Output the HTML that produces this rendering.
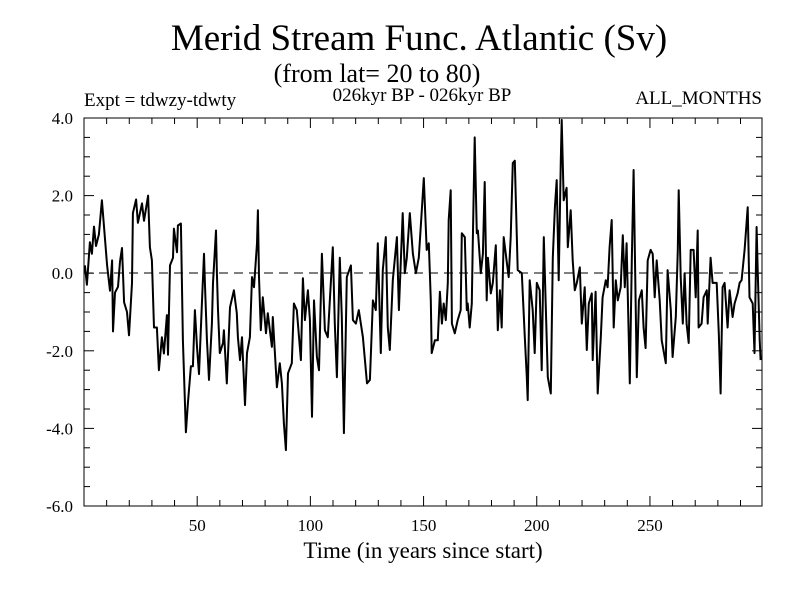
<!DOCTYPE html>
<html><head><meta charset="utf-8"><style>
body{margin:0;background:#fff}
svg{display:block;font-family:"Liberation Serif",serif}
</style></head><body>
<svg id="chart" width="800" height="600">
<rect width="800" height="600" fill="#fff"/>
<text x="419" y="50" font-size="37" text-anchor="middle">Merid Stream Func. Atlantic (Sv)</text>
<text x="377" y="82" font-size="26" text-anchor="middle">(from lat= 20 to 80)</text>
<text x="84" y="106" font-size="19">Expt = tdwzy-tdwty</text>
<text x="422" y="101" font-size="19" text-anchor="middle">026kyr BP - 026kyr BP</text>
<text x="762" y="104" font-size="19" text-anchor="end">ALL_MONTHS</text>
<text x="423" y="558" font-size="23" text-anchor="middle">Time (in years since start)</text>
<g id="axes"></g>
<line x1="84" y1="273" x2="762" y2="273" stroke="#000" stroke-width="1" stroke-dasharray="9,6"/>
<path id="series" fill="none" stroke="#000" stroke-width="2" stroke-linejoin="round"/>
<rect x="84" y="118" width="678" height="388" fill="none" stroke="#000" stroke-width="1"/>
</svg>
<script>
const xTicks=[50,100,150,200,250];
const yTicks=[4,2,0,-2,-4,-6];
const yTickLabels=["4.0","2.0","0.0","-2.0","-4.0","-6.0"];
const years=[0.4,1.3,2.6,3.5,4.4,5.3,6.6,7.9,10.2,11.5,12.4,12.8,13.7,15.0,15.9,16.8,17.7,19.0,19.9,21.2,21.6,23.0,23.8,25.6,26.5,28.3,29.1,30.0,30.9,32.2,33.1,34.4,35.3,36.6,37.1,38.0,39.3,39.7,41.1,41.5,42.8,43.7,45.0,45.9,47.2,48.1,49.0,49.9,50.8,52.1,53.0,53.4,54.3,55.2,56.5,57.0,58.3,58.7,59.2,60.0,61.4,61.8,63.1,64.5,66.2,67.5,68.0,68.9,69.8,71.1,72.0,73.3,74.2,75.1,76.4,76.8,77.3,78.1,79.0,80.4,81.2,83.0,83.4,85.2,86.5,87.4,88.3,89.2,90.1,91.8,92.7,94.0,95.8,96.7,97.6,98.9,99.8,100.7,101.6,102.9,103.8,105.1,106.4,107.7,109.9,110.8,111.7,113.0,113.9,114.8,116.1,117.9,118.8,120.1,121.4,123.2,125.0,126.3,127.6,128.9,129.8,131.1,132.0,133.3,134.2,135.1,136.4,138.2,139.1,140.8,141.7,142.6,143.9,145.3,146.6,147.9,149.2,150.1,151.4,152.3,153.2,153.6,155.0,156.3,157.2,158.1,158.9,159.8,160.7,161.1,162.0,162.5,163.8,165.1,166.4,166.9,168.2,169.1,169.5,170.4,171.3,171.7,172.6,173.5,174.0,175.3,176.2,177.0,177.9,178.4,179.7,180.6,181.9,182.8,183.7,184.5,185.4,186.8,187.6,188.5,189.4,190.3,191.6,193.4,194.7,195.6,196.0,196.9,198.2,199.1,200.0,201.3,202.2,203.1,204.0,204.9,206.2,207.1,208.0,208.8,209.7,210.6,211.0,211.9,213.2,213.7,215.0,215.9,216.8,217.7,219.0,219.9,221.2,222.1,223.0,224.3,224.7,226.0,226.9,228.3,229.1,230.5,231.3,232.2,233.1,234.0,234.9,235.8,237.1,238.0,238.9,239.7,241.1,242.0,242.8,244.2,245.1,246.4,247.2,248.1,249.0,250.3,251.2,252.1,253.0,254.3,255.2,257.0,257.8,259.2,260.0,261.4,262.3,262.7,263.6,264.5,265.3,266.2,267.1,268.0,269.3,270.2,271.1,271.5,272.8,273.7,275.1,275.5,276.8,277.7,279.5,280.4,281.2,282.1,283.0,284.3,285.2,286.5,287.4,288.7,289.6,290.5,291.8,293.2,294.0,295.4,296.2,297.1,297.6,298.5,298.9];
const values=[0.2,-0.3,0.8,0.5,1.2,0.7,1.0,1.88,0.2,-0.45,0.33,-1.5,-0.5,-0.35,0.3,0.65,-0.75,-1.0,-1.6,-0.25,1.55,1.9,1.3,1.8,1.35,2.0,0.67,0.33,-1.4,-1.4,-2.5,-1.65,-2.07,-1.08,-2.1,0.2,0.4,1.15,0.54,1.23,1.28,-1.73,-4.1,-3.35,-2.4,-2.4,-0.95,-1.9,-2.6,-0.78,0.5,-0.25,-1.7,-2.75,-1.3,-0.25,1.1,0,-0.95,-2.06,-1.8,-1.47,-2.84,-0.88,-0.44,-1.03,-1.65,-2.24,-1.65,-3.4,-2.06,-1.65,-0.1,-0.36,0.77,1.62,-0.1,-1.47,-0.62,-1.55,-1.03,-1.9,-1.13,-2.94,-2.32,-2.84,-3.87,-4.56,-2.58,-2.32,-0.78,-0.95,-2.24,-0.13,-1.21,-0.44,-1.2,-3.7,-0.7,-2.16,-2.5,0.5,-1.47,-1.65,0.67,-1.3,-2.68,0.4,-1.13,-4.12,-0.1,0.2,-1.21,-1.3,-0.95,-1.65,-2.84,-2.75,-0.7,-0.95,0.77,-2.06,0.08,0.93,-1.4,-1.98,-0.18,0.93,-0.95,1.55,0,0.4,1.55,0.5,0,0.4,1.62,2.45,0.6,0.77,-0.7,-2.06,-1.73,-1.73,-0.48,-1.3,-0.78,-1.21,-0.25,1.37,2.14,-1.3,-1.55,-1.21,-0.95,1.03,0.93,-0.95,-0.78,-1.4,-0.78,0.67,3.5,1.03,1.1,0,0.5,2.35,-0.7,0.4,-0.52,-0.25,0.72,-1.47,-0.44,-1.4,0.93,0.26,-0.1,0.93,2.84,2.9,0.08,0,-1.65,-2.68,-3.27,-0.18,-0.95,-2.06,-0.25,-0.44,-2.5,0.93,-0.88,-2.68,-3.1,0.4,1.7,2.4,-0.18,2.9,3.95,1.88,2.2,0.67,1.62,0.33,-0.44,-0.25,0.15,-1.3,-0.36,-1.98,-0.78,-0.52,-2.24,-0.48,-3.1,-1.65,-0.62,-0.18,-0.36,0.67,1.37,-1.4,-0.18,-0.7,-0.36,0.98,-0.36,0.77,-2.84,0.33,2.66,-2.68,-0.7,-0.44,-1.4,-1.93,0.33,0.6,0.5,-0.62,0.33,-0.7,-1.73,-2.32,0.08,-0.95,-2.16,-1.13,0.6,2.14,-0.1,-1.3,0,-1.3,-1.8,0.6,0.6,-0.62,1.1,-1.4,-1.3,-0.62,-0.44,-1.3,0.4,-0.25,-0.25,-1.55,-3.1,-0.36,-0.25,-1.4,-0.44,-1.13,-0.78,-0.52,-0.25,-0.18,0.6,1.7,-0.62,-0.78,-2.06,1.19,0.08,-1.73,-2.24];

const X0=84,X1=762,Y0=118,Y1=506,xMin=0,xMax=299.5,yMin=-6,yMax=4;
function xs(t){return X0+(t-xMin)/(xMax-xMin)*(X1-X0);}
function ys(v){return Y1-(v-yMin)/(yMax-yMin)*(Y1-Y0);}
const NS="http://www.w3.org/2000/svg";
const ax=document.getElementById('axes');
function ln(x1,y1,x2,y2,name){
  const l=document.createElementNS(NS,'line');
  l.setAttribute('x1',x1);l.setAttribute('y1',y1);l.setAttribute('x2',x2);l.setAttribute('y2',y2);
  l.setAttribute('stroke','#000');l.setAttribute('stroke-width','1');
  
  
  ax.appendChild(l);
}
function tx(x,y,s,anchor,name){
  const t=document.createElementNS(NS,'text');
  t.setAttribute('x',x);t.setAttribute('y',y);t.setAttribute('font-size','17');
  t.setAttribute('text-anchor',anchor);t.textContent=s;
  
  
  ax.appendChild(t);
}
for(let t=10;t<300;t+=10){
  const major=t%50===0;const L=major?10:6;const x=xs(t);
  ln(x,Y1,x,Y1-L,'x-tick');ln(x,Y0,x,Y0+L,'x-tick-top');
}
xTicks.forEach(t=>tx(xs(t),531,String(t),'middle','x-tick-label'));
for(let v=-6;v<=4.001;v+=0.5){
  const major=Math.abs(v%2)<1e-6;const L=major?10:6;const y=ys(v);
  ln(X0,y,X0+L,y,'y-tick');ln(X1,y,X1-L,y,'y-tick-right');
}
yTicks.forEach((v,i)=>tx(73,ys(v)+6,yTickLabels[i],'end','y-tick-label'));
let d='';
years.forEach((t,i)=>{d+=(i?'L':'M')+xs(t).toFixed(1)+','+ys(values[i]).toFixed(1);});
document.getElementById('series').setAttribute('d',d);
</script>
</body></html>
